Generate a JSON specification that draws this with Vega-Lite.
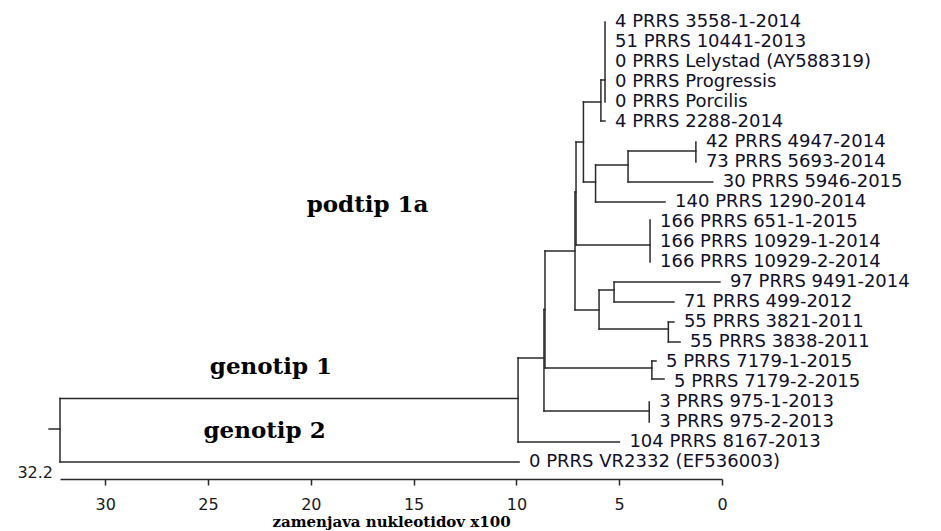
{
  "$schema": "https://vega.github.io/schema/vega-lite/v6.json",
  "autosize": {"type": "none"},
  "width": 662,
  "height": 479,
  "padding": {"left": 60, "top": 0, "right": 219, "bottom": 52},
  "background": "white",
  "config": {"view": {"stroke": null}},
  "datasets": {
    "segs": [
      {"x": 32.73, "x2": 32.2, "y": 21.35, "y2": 21.35},
      {"x": 32.2, "x2": 32.2, "y": 19.83, "y2": 23},
      {"x": 32.2, "x2": 9.87, "y": 23, "y2": 23},
      {"x": 32.2, "x2": 9.92, "y": 19.83, "y2": 19.83},
      {"x": 9.92, "x2": 9.92, "y": 17.8, "y2": 22},
      {"x": 9.92, "x2": 4.99, "y": 22, "y2": 22},
      {"x": 9.92, "x2": 8.66, "y": 17.8, "y2": 17.8},
      {"x": 8.66, "x2": 8.66, "y": 15.375, "y2": 20.45},
      {"x": 8.66, "x2": 8.61, "y": 15.375, "y2": 15.375},
      {"x": 8.66, "x2": 3.54, "y": 20.45, "y2": 20.45},
      {"x": 3.54, "x2": 3.54, "y": 20, "y2": 21},
      {"x": 8.61, "x2": 8.61, "y": 12.45, "y2": 18.3},
      {"x": 8.61, "x2": 3.41, "y": 18.3, "y2": 18.3},
      {"x": 3.41, "x2": 3.41, "y": 17.95, "y2": 18.85},
      {"x": 3.41, "x2": 3.21, "y": 17.95, "y2": 17.95},
      {"x": 3.41, "x2": 2.82, "y": 18.85, "y2": 18.85},
      {"x": 8.61, "x2": 7.15, "y": 12.45, "y2": 12.45},
      {"x": 7.15, "x2": 7.15, "y": 9.5, "y2": 15.4},
      {"x": 7.15, "x2": 7.1, "y": 9.5, "y2": 9.5},
      {"x": 7.15, "x2": 5.98, "y": 15.4, "y2": 15.4},
      {"x": 5.98, "x2": 5.98, "y": 14.4, "y2": 16.35},
      {"x": 5.98, "x2": 5.25, "y": 14.4, "y2": 14.4},
      {"x": 5.98, "x2": 2.61, "y": 16.35, "y2": 16.35},
      {"x": 5.25, "x2": 5.25, "y": 14, "y2": 15},
      {"x": 5.25, "x2": 0.1, "y": 14, "y2": 14},
      {"x": 5.25, "x2": 2.34, "y": 15, "y2": 15},
      {"x": 2.61, "x2": 2.61, "y": 16, "y2": 17},
      {"x": 2.61, "x2": 2.34, "y": 16, "y2": 16},
      {"x": 2.61, "x2": 2.04, "y": 17, "y2": 17},
      {"x": 7.1, "x2": 7.1, "y": 7, "y2": 12.15},
      {"x": 7.1, "x2": 6.74, "y": 7, "y2": 7},
      {"x": 7.1, "x2": 3.5, "y": 12.15, "y2": 12.15},
      {"x": 3.5, "x2": 3.5, "y": 10.9, "y2": 13},
      {"x": 6.74, "x2": 6.74, "y": 5, "y2": 9},
      {"x": 6.74, "x2": 5.89, "y": 5, "y2": 5},
      {"x": 6.74, "x2": 6.15, "y": 9, "y2": 9},
      {"x": 6.15, "x2": 6.15, "y": 8.15, "y2": 10},
      {"x": 6.15, "x2": 4.57, "y": 8.15, "y2": 8.15},
      {"x": 6.15, "x2": 2.77, "y": 10, "y2": 10},
      {"x": 4.57, "x2": 4.57, "y": 7.45, "y2": 9},
      {"x": 4.57, "x2": 1.27, "y": 7.45, "y2": 7.45},
      {"x": 4.57, "x2": 0.45, "y": 9, "y2": 9},
      {"x": 1.27, "x2": 1.27, "y": 7, "y2": 8},
      {"x": 5.89, "x2": 5.89, "y": 3.9, "y2": 5.95},
      {"x": 5.89, "x2": 5.69, "y": 3.9, "y2": 3.9},
      {"x": 5.89, "x2": 5.69, "y": 5.95, "y2": 5.95},
      {"x": 5.69, "x2": 5.69, "y": 1, "y2": 5}
    ],
    "leaves": [
      {"label": "4 PRRS 3558-1-2014", "x": 5.69, "y": 1},
      {"label": "51 PRRS 10441-2013", "x": 5.69, "y": 2},
      {"label": "0 PRRS Lelystad (AY588319)", "x": 5.69, "y": 3},
      {"label": "0 PRRS Progressis", "x": 5.69, "y": 4},
      {"label": "0 PRRS Porcilis", "x": 5.69, "y": 5},
      {"label": "4 PRRS 2288-2014", "x": 5.69, "y": 6},
      {"label": "42 PRRS 4947-2014", "x": 1.27, "y": 7},
      {"label": "73 PRRS 5693-2014", "x": 1.27, "y": 8},
      {"label": "30 PRRS 5946-2015", "x": 0.45, "y": 9},
      {"label": "140 PRRS 1290-2014", "x": 2.77, "y": 10},
      {"label": "166 PRRS 651-1-2015", "x": 3.5, "y": 11},
      {"label": "166 PRRS 10929-1-2014", "x": 3.5, "y": 12},
      {"label": "166 PRRS 10929-2-2014", "x": 3.5, "y": 13},
      {"label": "97 PRRS 9491-2014", "x": 0.1, "y": 14},
      {"label": "71 PRRS 499-2012", "x": 2.34, "y": 15},
      {"label": "55 PRRS 3821-2011", "x": 2.34, "y": 16},
      {"label": "55 PRRS 3838-2011", "x": 2.04, "y": 17},
      {"label": "5 PRRS 7179-1-2015", "x": 3.21, "y": 18},
      {"label": "5 PRRS 7179-2-2015", "x": 2.82, "y": 19},
      {"label": "3 PRRS 975-1-2013", "x": 3.54, "y": 20},
      {"label": "3 PRRS 975-2-2013", "x": 3.54, "y": 21},
      {"label": "104 PRRS 8167-2013", "x": 4.99, "y": 22},
      {"label": "0 PRRS VR2332 (EF536003)", "x": 9.87, "y": 23}
    ],
    "clades": [
      {"label": "podtip 1a", "x": 17.24, "y": 10.48},
      {"label": "genotip 1", "x": 21.94, "y": 18.6},
      {"label": "genotip 2", "x": 22.25, "y": 21.82}
    ],
    "rootlabel": [
      {"label": "32.2", "x": 32.2, "y": 23.8}
    ]
  },
  "encoding": {
    "x": {
      "field": "x",
      "type": "quantitative",
      "scale": {"domain": [0, 32.2], "reverse": true, "nice": false, "zero": false},
      "axis": {
        "values": [0, 5, 10, 15, 20, 25, 30],
        "title": "zamenjava nukleotidov x100",
        "grid": false,
        "domainColor": "#2a2a2a",
        "domainWidth": 1.5,
        "tickColor": "#2a2a2a",
        "tickWidth": 1.5,
        "tickSize": 6,
        "labelFont": "DejaVu Sans",
        "labelFontSize": 16,
        "labelColor": "#1a1a1a",
        "labelPadding": 11,
        "labelFlush": false,
        "titleFont": "DejaVu Serif",
        "titleFontWeight": "bold",
        "titleFontSize": 15,
        "titleColor": "#000000",
        "titleBaseline": "alphabetic",
        "titleY": 47
      }
    },
    "y": {
      "field": "y",
      "type": "quantitative",
      "scale": {"domain": [-0.1, 23.85], "reverse": true, "nice": false, "zero": false},
      "axis": null
    }
  },
  "layer": [
    {
      "data": {"name": "segs"},
      "mark": {"type": "rule", "color": "#2a2a2a", "strokeWidth": 1.5, "strokeCap": "square"},
      "encoding": {
        "x2": {"field": "x2"},
        "y2": {"field": "y2"}
      }
    },
    {
      "data": {"name": "leaves"},
      "mark": {"type": "text", "align": "left", "baseline": "middle", "dx": 10, "font": "DejaVu Sans", "fontSize": 18, "color": "#10102a"},
      "encoding": {"text": {"field": "label"}}
    },
    {
      "data": {"name": "clades"},
      "mark": {"type": "text", "align": "center", "baseline": "alphabetic", "font": "DejaVu Serif", "fontWeight": "bold", "fontSize": 23, "color": "#000000"},
      "encoding": {"text": {"field": "label"}}
    },
    {
      "data": {"name": "rootlabel"},
      "mark": {"type": "text", "align": "right", "baseline": "alphabetic", "dx": -7, "font": "DejaVu Sans", "fontSize": 16, "color": "#1a1a1a"},
      "encoding": {"text": {"field": "label"}}
    }
  ]
}
